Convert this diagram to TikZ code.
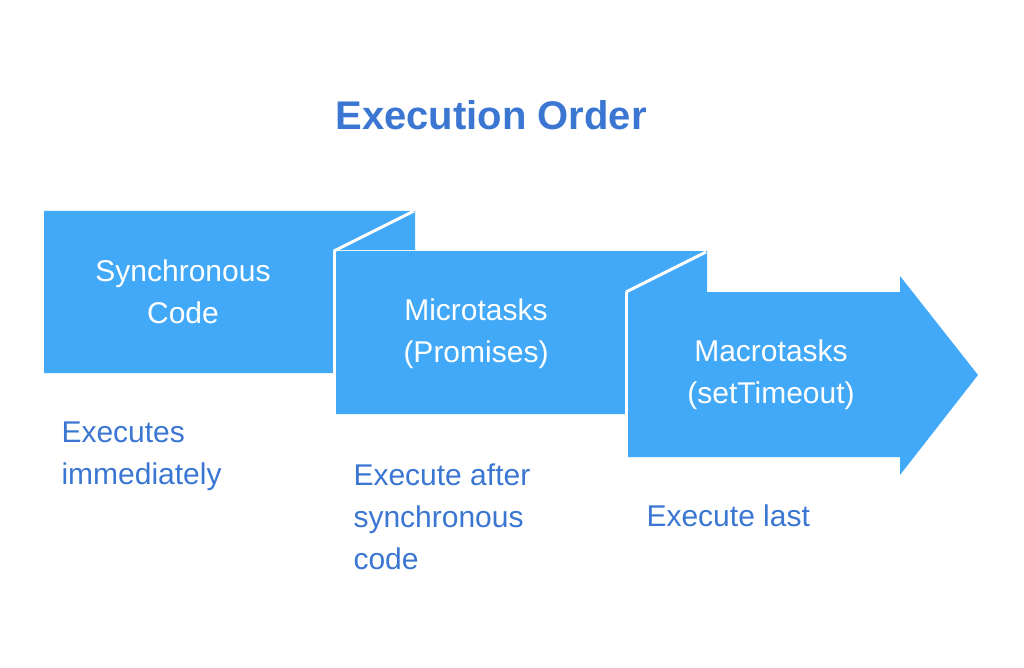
\documentclass[tikz,border=0pt]{standalone}
\usepackage{fontspec}
\setmainfont{Liberation Sans}
\definecolor{stepblue}{HTML}{42A8F8}
\definecolor{titleblue}{HTML}{3A76D2}
\tikzset{
  stepfill/.style={fill=stepblue},
  foldline/.style={draw=white,line width=3pt},
  steptext/.style={text=white,align=center,font=\fontsize{30}{42}\selectfont},
  notetext/.style={text=titleblue,align=left,anchor=north west,font=\fontsize{30}{42}\selectfont}
}
\begin{document}
\begin{tikzpicture}[x=1pt,y=-1pt]
    \useasboundingbox (0,0) rectangle (1024,668);
    \node[text=titleblue,font=\bfseries\fontsize{40}{48}\selectfont] (title) at (491,115) {Execution Order};

    % the three steps
    \fill[stepfill] (44,211) -- (415,211) -- (415,250) -- (333,250) -- (333,373) -- (44,373) -- cycle;
    \fill[stepfill] (335,251) -- (707,251) -- (707,292) -- (625,292) -- (625,414) -- (335,414) -- cycle;
    \fill[stepfill] (627,292) -- (900,292) -- (900,276) -- (978,375) -- (900,475) -- (900,457) -- (627,457) -- cycle;

    \coordinate (f1a) at (334,251);
    \coordinate (f1b) at (414,211);
    \coordinate (f2a) at (626,292);
    \coordinate (f2b) at (706,252);
    \draw[foldline] (f1a) -- (f1b);
    \draw[foldline] (f2a) -- (f2b);
    \draw[foldline] (334,251) -- (334,414);
    \draw[foldline] (626,292) -- (626,457);

    \node[steptext] (sync) at (183,292) {Synchronous\\Code};
    \node[steptext] (micro) at (476,334) {Microtasks\\(Promises)};
    \node[steptext] (macro) at (771,375) {Macrotasks\\(setTimeout)};

    % notes
    \node[notetext] (syncnote) at (58,418) {Executes\\immediately};
    \node[notetext] (micronote) at (350,460) {Execute after\\synchronous\\code};
    \node[notetext] (macronote) at (643,501) {Execute last};
\end{tikzpicture}
\end{document}
